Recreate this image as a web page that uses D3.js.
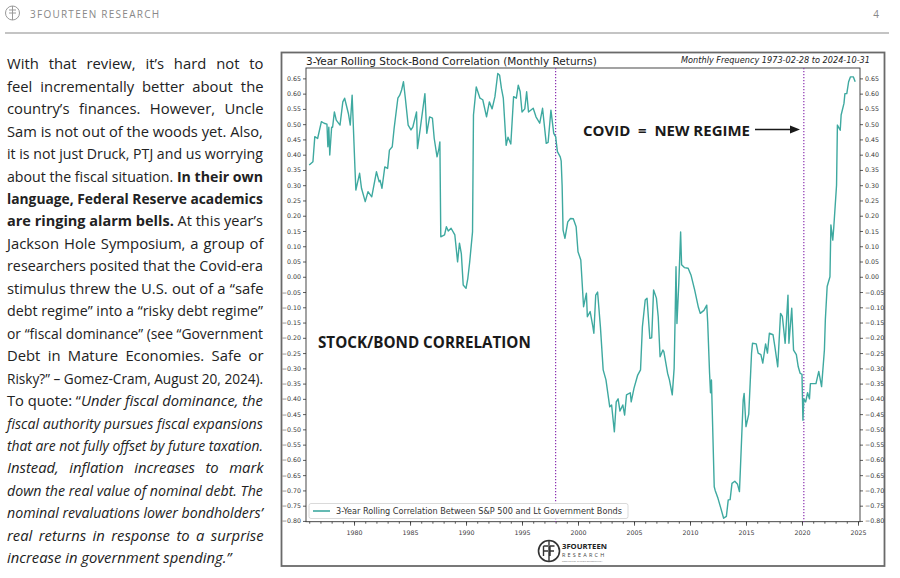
<!DOCTYPE html>
<html>
<head>
<meta charset="utf-8">
<script src="https://cdn.jsdelivr.net/npm/d3@7"></script>
<style>
body { margin: 0; background: #fff; }
svg { display: block; }
</style>
</head>
<body>
<svg id="page" width="900" height="578"></svg>
<script>
// 3-year rolling correlation (month, value)
var dates = ["1976-01","1976-05","1976-07","1976-10","1977-02","1977-05","1977-08","1977-09","1977-10","1977-11",
	"1978-01","1978-02","1978-04","1978-06","1978-10","1979-01","1979-03","1979-07","1979-09","1979-11",
	"1980-02","1980-03","1980-07","1980-09","1981-01","1981-04","1981-08","1982-01","1982-04","1982-05",
	"1982-07","1982-10","1983-01","1983-03","1983-06","1983-08","1983-12","1984-02","1984-04","1984-06",
	"1984-08","1984-11","1985-02","1985-04","1985-08","1985-09","1985-12","1986-05","1986-07","1986-10",
	"1987-01","1987-03","1987-06","1987-08","1987-09","1987-10","1988-02","1988-04","1988-06","1988-09",
	"1989-01","1989-04","1989-06","1989-08","1989-10","1990-01","1990-03","1990-05","1990-08","1990-09",
	"1990-12","1991-04","1991-07","1991-11","1992-02","1992-05","1992-08","1992-11","1993-01","1993-03",
	"1993-05","1993-08","1993-10","1994-01","1994-04","1994-07","1994-09","1994-11","1995-01","1995-04",
	"1995-06","1995-08","1996-01","1996-04","1996-08","1996-11","1997-03","1997-05","1997-08","1997-11",
	"1998-01","1998-03","1998-06","1998-07","1998-08","1998-09","1998-11","1999-02","1999-05","1999-08",
	"1999-11","2000-01","2000-04","2000-07","2000-10","2000-11","2001-02","2001-05","2001-06","2001-08",
	"2001-10","2002-01","2002-04","2002-07","2002-11","2003-01","2003-04","2003-06","2003-08","2003-10",
	"2004-01","2004-03","2004-05","2004-09","2004-10","2005-01","2005-05","2005-08","2005-10","2006-01",
	"2006-03","2006-06","2006-08","2006-10","2007-01","2007-03","2007-05","2007-08","2007-09","2008-01",
	"2008-03","2008-06","2008-08","2008-09","2008-10","2008-11","2009-01","2009-03","2009-04","2009-07",
	"2009-11","2010-02","2010-06","2010-10","2010-12","2011-04","2011-07","2011-08","2011-10","2011-11",
	"2011-12","2012-03","2012-04","2012-07","2012-10","2013-01","2013-04","2013-06","2013-08","2013-10",
	"2014-01","2014-04","2014-06","2014-07","2014-10","2014-11","2015-01","2015-04","2015-07","2015-08",
	"2015-12","2016-02","2016-05","2016-07","2016-10","2016-12","2017-02","2017-06","2017-08","2017-11",
	"2018-02","2018-04","2018-07","2018-10","2018-11","2019-02","2019-04","2019-07","2019-09","2019-11",
	"2020-01","2020-02","2020-03","2020-05","2020-07","2020-09","2020-10","2021-01","2021-04","2021-07",
	"2021-10","2022-01","2022-02","2022-04","2022-07","2022-08","2022-10","2022-11","2023-02","2023-03",
	"2023-06","2023-07","2023-10","2023-11","2024-01","2024-03","2024-05","2024-08","2024-10"];

var corr = [0.366,0.377,0.459,0.453,0.508,0.503,0.50,0.426,0.49,0.399,
	0.49,0.49,0.54,0.513,0.497,0.573,0.585,0.535,0.497,0.595,
	0.355,0.284,0.339,0.29,0.246,0.279,0.262,0.344,0.311,0.316,
	0.29,0.36,0.355,0.415,0.426,0.486,0.585,0.595,0.612,0.639,
	0.585,0.497,0.481,0.49,0.54,0.42,0.486,0.60,0.47,0.524,
	0.52,0.453,0.393,0.42,0.442,0.131,0.137,0.164,0.15,0.159,
	0.137,0.049,0.11,0.076,-0.027,-0.038,-0.005,0.049,0.147,0.53,
	0.622,0.585,0.58,0.524,0.573,0.55,0.59,0.666,0.66,0.617,
	0.585,0.431,0.457,0.435,0.59,0.585,0.628,0.607,0.54,0.55,
	0.606,0.54,0.552,0.524,0.503,0.552,0.437,0.44,0.546,0.47,
	0.459,0.41,0.393,0.38,0.30,0.153,0.126,0.18,0.191,0.19,
	0.164,0.082,0.055,-0.098,-0.054,-0.131,-0.114,-0.164,-0.185,-0.06,
	-0.05,-0.164,-0.305,-0.338,-0.426,-0.42,-0.508,-0.41,-0.40,-0.44,
	-0.42,-0.453,-0.387,-0.38,-0.41,-0.365,-0.322,-0.305,-0.164,-0.076,
	-0.07,-0.202,-0.20,-0.043,-0.07,-0.131,-0.262,-0.24,-0.245,-0.316,
	-0.338,-0.387,-0.30,-0.142,0.033,-0.153,-0.02,0.147,0.039,0.03,
	0.028,0.006,-0.043,-0.10,-0.12,-0.11,-0.093,-0.15,-0.316,-0.38,
	-0.338,-0.688,-0.70,-0.726,-0.758,-0.791,-0.785,-0.731,-0.73,-0.677,
	-0.67,-0.68,-0.704,-0.633,-0.404,-0.382,-0.491,-0.45,-0.25,-0.218,
	-0.22,-0.25,-0.255,-0.283,-0.22,-0.25,-0.185,-0.19,-0.23,-0.295,
	-0.12,-0.13,-0.218,-0.06,-0.218,-0.103,-0.24,-0.255,-0.295,-0.316,
	-0.32,-0.47,-0.40,-0.41,-0.38,-0.40,-0.35,-0.35,-0.35,-0.31,
	-0.36,-0.24,-0.14,-0.032,0.0,0.17,0.12,0.16,0.30,0.497,
	0.48,0.53,0.568,0.60,0.60,0.639,0.655,0.655,0.639];

// regime change markers (dotted verticals)
var regimeDates = ["1998-01", "2020-03"];

var chartTitle = "3-Year Rolling Stock-Bond Correlation (Monthly Returns)",
	chartSubtitle = "Monthly Frequency 1973-02-28 to 2024-10-31",
	legendLabel = "3-Year Rolling Correlation Between S&P 500 and Lt Government Bonds";

// body text, one entry per printed line; n = normal, b = bold, i = italic
var bodyLines = [
	[["With that review, it\u2019s hard not to", "n"]],
	[["feel incrementally better about the", "n"]],
	[["country\u2019s finances. However, Uncle", "n"]],
	[["Sam is not out of the woods yet. Also,", "n"]],
	[["it is not just Druck, PTJ and us worrying", "n"]],
	[["about the fiscal situation. ", "n"], ["In their own", "b"]],
	[["language, Federal Reserve academics", "b"]],
	[["are ringing alarm bells.", "b"], [" At this year\u2019s", "n"]],
	[["Jackson Hole Symposium, a group of", "n"]],
	[["researchers posited that the Covid-era", "n"]],
	[["stimulus threw the U.S. out of a \u201csafe", "n"]],
	[["debt regime\u201d into a \u201crisky debt regime\u201d", "n"]],
	[["or \u201cfiscal dominance\u201d (see \u201cGovernment", "n"]],
	[["Debt in Mature Economies. Safe or", "n"]],
	[["Risky?\u201d \u2013 Gomez-Cram, August 20, 2024).", "n"]],
	[["To quote: \u201c", "n"], ["Under fiscal dominance, the", "i"]],
	[["fiscal authority pursues fiscal expansions", "i"]],
	[["that are not fully offset by future taxation.", "i"]],
	[["Instead, inflation increases to mark", "i"]],
	[["down the real value of nominal debt. The", "i"]],
	[["nominal revaluations lower bondholders\u2019", "i"]],
	[["real returns in response to a surprise", "i"]],
	[["increase in government spending.\u201d", "i"]]
];

var TEAL = "#3ea9a0",
	PURPLE = "#8a2fb0",
	MONO = "'DejaVu Sans', sans-serif",
	BODY_FONT = "'Open Sans', 'Noto Sans', sans-serif";

var PLOT = {left: 306, right: 860, top: 68, bottom: 521.7};

var svg = d3.select("#page");
var parseMonth = d3.timeParse("%Y-%m");

// shrink or grow a text's font so it spans a given width
function fitWidth(sel, target) {
	var fs = parseFloat(sel.attr("font-size"));
	var w = sel.node().getComputedTextLength();
	sel.attr("font-size", (fs * target / w).toFixed(2));
}

//////////// Page header

var header = svg.append("g").attr("fill", "none").attr("stroke", "#9a9a9a");
header.append("circle").attr("cx", 12.5).attr("cy", 13).attr("r", 7).attr("stroke-width", 1);
header.append("path").attr("d", "M12.5,6 V20 M9,10 H12.5 M9,13 H12.5 M13,10 H16 M13,13 H16")
	.attr("stroke-width", 1);

svg.append("text")
	.attr("x", 30).attr("y", 17.5)
	.attr("font-family", BODY_FONT).attr("font-size", 10)
	.attr("letter-spacing", 1.25).attr("fill", "#888")
	.text("3FOURTEEN RESEARCH");

svg.append("text")
	.attr("x", 879).attr("y", 17.5).attr("text-anchor", "end")
	.attr("font-family", BODY_FONT).attr("font-size", 10).attr("fill", "#888")
	.text("4");

svg.append("line")
	.attr("x1", 5).attr("x2", 889).attr("y1", 33).attr("y2", 33)
	.attr("stroke", "#b0b0b0").attr("stroke-width", 1.5);

//////////// Body text, justified line by line

var TEXT_X = 7, TEXT_W = 256.5;
var body = svg.append("g")
	.attr("font-family", BODY_FONT).attr("fill", "#222");

bodyLines.forEach(function(segs, i) {
	var t = body.append("text")
		.attr("x", TEXT_X)
		.attr("y", 69.3 + i * 22.45)
		.attr("font-size", 14.8);
	segs.forEach(function(s) {
		t.append("tspan")
			.attr("font-weight", s[1] == "b" ? 700 : 400)
			.attr("font-style", s[1] == "i" ? "italic" : "normal")
			.text(s[0]);
	});
	var w = t.node().getComputedTextLength();
	if (w > TEXT_W) {
		// too long for the column: shrink this line a little so it fits
		fitWidth(t, TEXT_W - 0.5);
	} else if (i < bodyLines.length - 1) {
		var spaces = (segs.map(function(s) { return s[0]; }).join("").match(/ /g) || []).length;
		t.attr("word-spacing", ((TEXT_W - w) / spaces).toFixed(2));
	}
});

//////////// Chart frame

svg.append("rect")
	.attr("x", 281.5).attr("y", 52.5)
	.attr("width", 603).attr("height", 513.5)
	.attr("fill", "none").attr("stroke", "#6a6a6a").attr("stroke-width", 1.8);

//////////// Scales

var x = d3.scaleTime()
	.domain([new Date(1975, 8, 18), new Date(2025, 2, 7)])
	.range([PLOT.left, PLOT.right]);

var y = d3.scaleLinear()
	.domain([-0.8025, 0.684])
	.range([PLOT.bottom, PLOT.top]);

var series = dates.map(function(d, i) { return {date: parseMonth(d), value: corr[i]}; });

//////////// Axes

var fmt = d3.format(".2f");

var yLeft = svg.append("g")
	.attr("transform", "translate(" + PLOT.left + ",0)")
	.call(d3.axisLeft(y).ticks(30).tickFormat(fmt).tickSize(3).tickPadding(2));

var yRight = svg.append("g")
	.attr("transform", "translate(" + PLOT.right + ",0)")
	.call(d3.axisRight(y).ticks(30).tickFormat(fmt).tickSize(3).tickPadding(2));

var xMinor = svg.append("g")
	.attr("transform", "translate(0," + PLOT.bottom + ")")
	.call(d3.axisBottom(x).ticks(d3.timeYear.every(1)).tickFormat("").tickSize(2));

var xMajor = svg.append("g")
	.attr("transform", "translate(0," + PLOT.bottom + ")")
	.call(d3.axisBottom(x).ticks(d3.timeYear.every(5)).tickFormat(d3.timeFormat("%Y")).tickSize(4).tickPadding(5));

[yLeft, yRight, xMinor, xMajor].forEach(function(g) {
	g.select(".domain").remove();
	g.selectAll("line").attr("stroke", "#333").attr("stroke-width", 0.8);
	g.selectAll("text").attr("font-family", MONO).attr("font-size", 6.3).attr("fill", "#3a3a3a");
});

//////////// Plot box, markers and line

svg.append("rect")
	.attr("x", PLOT.left).attr("y", PLOT.top)
	.attr("width", PLOT.right - PLOT.left).attr("height", PLOT.bottom - PLOT.top)
	.attr("fill", "none").attr("stroke", "#333").attr("stroke-width", 0.9);

svg.selectAll("line.regime")
	.data(regimeDates)
  .enter().append("line")
	.attr("class", "regime")
	.attr("x1", function(d) { return x(parseMonth(d)); })
	.attr("x2", function(d) { return x(parseMonth(d)); })
	.attr("y1", PLOT.top).attr("y2", PLOT.bottom)
	.attr("stroke", PURPLE).attr("stroke-width", 1.2)
	.attr("stroke-dasharray", "1.2,1.8");

svg.append("path")
	.datum(series)
	.attr("fill", "none")
	.attr("stroke", TEAL)
	.attr("stroke-width", 1.4)
	.attr("stroke-linejoin", "round")
	.attr("d", d3.line()
		.x(function(d) { return x(d.date); })
		.y(function(d) { return y(d.value); }));

//////////// Titles

var title = svg.append("text")
	.attr("x", PLOT.left).attr("y", 64.5)
	.attr("font-family", MONO).attr("font-size", 10).attr("fill", "#222")
	.text(chartTitle);
fitWidth(title, 291);

var subtitle = svg.append("text")
	.attr("x", 870).attr("y", 63).attr("text-anchor", "end")
	.attr("font-family", MONO).attr("font-size", 8).attr("font-style", "italic").attr("fill", "#222")
	.text(chartSubtitle);
fitWidth(subtitle, 189);

//////////// Legend

var legend = svg.append("g");
legend.append("rect")
	.attr("x", 309).attr("y", 503.5).attr("width", 319).attr("height", 15)
	.attr("rx", 2).attr("fill", "#fff").attr("stroke", "#d0d0d0").attr("stroke-width", 0.8);
legend.append("line")
	.attr("x1", 313).attr("x2", 330).attr("y1", 511).attr("y2", 511)
	.attr("stroke", TEAL).attr("stroke-width", 1.6);
var legendText = legend.append("text")
	.attr("x", 336).attr("y", 514)
	.attr("font-family", MONO).attr("font-size", 8).attr("fill", "#333")
	.text(legendLabel);
fitWidth(legendText, 286);

//////////// Annotations

var stockBond = svg.append("text")
	.attr("x", 318).attr("y", 347.5)
	.attr("font-family", BODY_FONT).attr("font-size", 16).attr("font-weight", 700).attr("fill", "#1a1a1a")
	.text("STOCK/BOND CORRELATION");
fitWidth(stockBond, 213);

var covid = svg.append("text")
	.attr("x", 583).attr("y", 135.5)
	.attr("font-family", BODY_FONT).attr("font-size", 16).attr("font-weight", 700).attr("fill", "#1a1a1a")
	.attr("xml:space", "preserve")
	.text("COVID  =  NEW REGIME");
fitWidth(covid, 167);

svg.append("line")
	.attr("x1", 755).attr("x2", 792).attr("y1", 129.5).attr("y2", 129.5)
	.attr("stroke", "#1a1a1a").attr("stroke-width", 1.5);
svg.append("path")
	.attr("d", "M800,129.5 L790,125.5 L790,133.5 Z")
	.attr("fill", "#1a1a1a");

//////////// Bottom logo

var logo = svg.append("g");
logo.append("circle")
	.attr("cx", 549).attr("cy", 551).attr("r", 10.5)
	.attr("fill", "none").attr("stroke", "#333").attr("stroke-width", 1.6);
logo.append("path")
	.attr("d", "M549,541 V561 M543.5,546 H548 M543.5,551 H548 M543.5,546 V556 M550,546 H554.5 M550,551 H554 M550,546 V556")
	.attr("fill", "none").attr("stroke", "#333").attr("stroke-width", 1.4);
var logoName = logo.append("text")
	.attr("x", 562).attr("y", 549)
	.attr("font-family", BODY_FONT).attr("font-size", 10).attr("font-weight", 700).attr("fill", "#222")
	.text("3FOURTEEN");
fitWidth(logoName, 45);
logo.append("text")
	.attr("x", 562).attr("y", 556.5)
	.attr("font-family", BODY_FONT).attr("font-size", 5.5).attr("letter-spacing", 2.2).attr("fill", "#444")
	.text("RESEARCH");
logo.append("text")
	.attr("x", 562).attr("y", 561.5)
	.attr("font-family", BODY_FONT).attr("font-size", 2.3).attr("fill", "#666")
	.text("REDUCE RISK. EXPLOIT OPPORTUNITY.");
</script>
</body>
</html>
